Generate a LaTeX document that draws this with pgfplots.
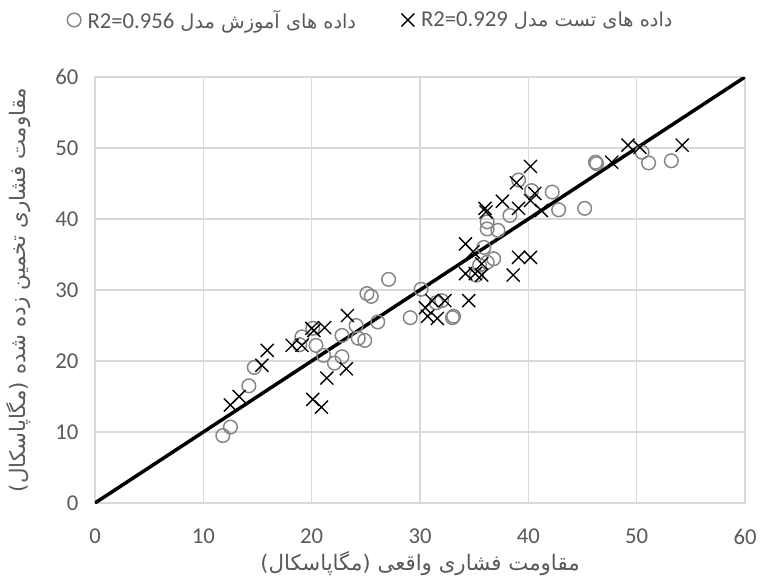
\documentclass[border=0pt]{standalone}
\usepackage{fontspec}
\setmainfont{Carlito}
\newfontfamily\fa[Script=Arabic]{DejaVu Sans}
\TeXXeTstate=1
\usepackage{pgfplots}
\usepackage{pgfplotstable}
\pgfplotsset{compat=1.18}
\definecolor{gridgrey}{HTML}{D9D9D9}
\definecolor{tickgrey}{HTML}{595959}
\definecolor{circgrey}{HTML}{858585}

\pgfplotstableread{
x y
11.8 9.5
12.5 10.7
14.2 16.5
14.7 19.1
18.9 22.3
19.1 23.4
20.1 24.6
20.4 22.2
21.1 20.8
22.1 19.7
22.8 20.6
22.8 23.6
24.1 25.0
24.3 23.2
24.9 22.9
25.1 29.5
25.5 29.1
26.1 25.5
27.1 31.5
29.1 26.1
30.1 30.1
31.5 28.2
32.0 28.5
33.0 26.1
33.1 26.3
35.2 32.1
35.5 33.5
35.9 36.0
36.2 33.9
36.8 34.4
36.2 38.6
36.2 39.6
37.2 38.4
38.3 40.5
39.1 45.5
40.3 44.0
42.2 43.8
42.8 41.3
45.2 41.5
46.2 48.0
46.3 47.8
50.5 49.4
51.1 47.9
53.2 48.2
}\train

\pgfplotstableread{
x y
12.5 13.8
13.3 15.0
15.4 19.4
15.9 21.5
18.2 22.2
19.1 22.2
20.0 24.6
20.2 24.3
21.2 24.7
20.1 14.6
20.9 13.5
21.4 17.6
23.2 18.9
23.3 26.4
30.5 27.5
31.1 28.5
30.7 26.3
31.6 26.0
32.3 28.5
34.5 28.5
34.2 32.3
35.1 32.3
35.7 32.1
35.7 33.7
34.2 36.5
34.9 35.4
36.0 41.5
36.1 41.0
37.6 42.5
38.9 45.1
39.1 41.5
40.2 47.4
40.6 43.6
40.2 42.6
41.2 41.2
38.6 32.1
39.1 34.6
40.2 34.6
47.7 48.0
49.2 50.4
50.3 50.1
54.2 50.4
}\test

\begin{document}
\begin{tikzpicture}
\useasboundingbox (-71.25pt,-62.25pt) rectangle (499.5pt,377.25pt);
\begin{axis}[
  at={(0,0)}, anchor=south west,
  width=487.5pt, height=319.5pt, scale only axis,
  xmin=0, xmax=60, ymin=0, ymax=60,
  xtick={0,10,...,60}, ytick={0,10,...,60},
  grid=major,
  major grid style={draw=gridgrey, line width=0.9pt},
  axis line style={draw=gridgrey, line width=0.9pt},
  major tick length=0pt,
  /pgf/number format/assume math mode=true,
  ticklabel style={font=\fontsize{17}{20}\selectfont, text=tickgrey},
  xticklabel style={yshift=-16pt},
  yticklabel style={xshift=-9pt},
  xlabel={\fa\beginR مقاومت فشاری واقعی (مگاپاسکال)\endR},
  ylabel={\fa\beginR مقاومت فشاری تخمین زده شده (مگاپاسکال)\endR},
  label style={font=\fontsize{16}{18}\selectfont, text=tickgrey},
  xlabel style={at={(axis description cs:0.5,-0.141)}, anchor=center},
  ylabel style={at={(axis description cs:-0.117,0.5)}, anchor=center},
  legend style={at={(0.425,1)}, anchor=south, yshift=31pt, draw=none, fill=none,
    font=\fontsize{14.5}{17}\selectfont, text=tickgrey,
    /tikz/every odd column/.append style={column sep=3pt},
    /tikz/every even column/.append style={column sep=32pt}},
  legend columns=2,
  legend cell align=left,
]
\addplot[only marks, mark=o, mark size=5.1pt, mark options={draw=circgrey, line width=1.1pt}]
  table[x=x,y=y]{\train};
\addlegendentry{\fa\beginR داده های آموزش مدل \beginL{\normalfont\fontsize{17}{18}\selectfont R2=0.956}\endL\endR}
\addplot[only marks, mark=x, mark size=6.9pt, mark options={draw=black, line width=1pt}]
  table[x=x,y=y]{\test};
\addlegendentry{\fa\beginR داده های تست مدل \beginL{\normalfont\fontsize{17}{18}\selectfont R2=0.929}\endL\endR}
\addplot[black, line width=2.6pt, forget plot] coordinates {(0,0) (60,60)};
\end{axis}
\end{tikzpicture}
\end{document}
